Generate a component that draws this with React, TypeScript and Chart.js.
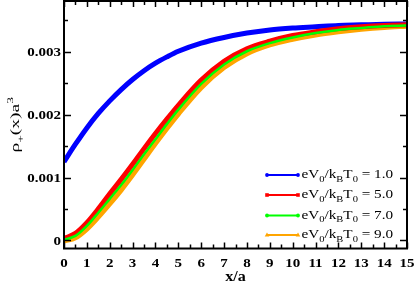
import React, { useEffect, useRef } from "react";
import { Chart, registerables } from "chart.js";
Chart.register(...registerables);

// x/a sample positions
const xValues = [0, 0.5, 1, 1.5, 2, 2.5, 3, 3.5, 4, 4.5, 5, 6, 7, 8, 9, 10, 11, 12, 13, 14, 15];
// rho_+(x) a^3 for eV0/kBT0 = 1.0
const rhoV1 = [0.00125, 0.00153, 0.00179, 0.00202, 0.00222, 0.0024, 0.00256, 0.0027, 0.00282, 0.00292, 0.00301, 0.00314, 0.00323, 0.0033, 0.00335, 0.00338, 0.0034, 0.00342, 0.00343, 0.00344, 0.003445];
// eV0/kBT0 = 5.0
const rhoV5 = [0.00003, 0.00011, 0.00028, 0.0005, 0.00074, 0.00097, 0.00121, 0.00146, 0.0017, 0.00193, 0.00215, 0.00255, 0.00285, 0.00305, 0.00317, 0.00326, 0.00332, 0.00337, 0.0034, 0.00342, 0.00343];
// eV0/kBT0 = 7.0
const rhoV7 = [0.00001, 0.00007, 0.00023, 0.00044, 0.00066, 0.00088, 0.00112, 0.00137, 0.00161, 0.00185, 0.00208, 0.00249, 0.0028, 0.00301, 0.00314, 0.00323, 0.0033, 0.00335, 0.00338, 0.00341, 0.00342];
// eV0/kBT0 = 9.0
const rhoV9 = [-0.00001, 0.00004, 0.00018, 0.00037, 0.00058, 0.0008, 0.00104, 0.00129, 0.00154, 0.00178, 0.00201, 0.00243, 0.00275, 0.00297, 0.00311, 0.0032, 0.00327, 0.00332, 0.00336, 0.00339, 0.00341];

const legendValues = ["1.0", "5.0", "7.0", "9.0"];
const seriesColors = ["#0000ff", "#ff0000", "#00ff00", "#ffa500"];
const legendMarkers = ["circle", "square", "circle", "triangle"];

const xTickValues = [0, 1, 2, 3, 4, 5, 6, 7, 8, 9, 10, 11, 12, 13, 14, 15];
const xTickLabels = ["0", "1", "2", "3", "4", "5", "6", "7", "8", "9", "10", "11", "12", "13", "14", "15"];
const yTickValues = [0, 0.001, 0.002, 0.003];
const yTickLabels = ["0", "0.001", "0.002", "0.003"];

const SERIF = "'Liberation Serif', 'Times New Roman', serif";

type Seg = { t: string; k?: "sub" | "sup" };

function drawRich(ctx: CanvasRenderingContext2D, segs: Seg[], x: number, y: number, size: number, weight: string, sx: number, align: "left" | "center") {
  const subSize = Math.round(size * 0.7);
  const widths = segs.map((s) => {
    ctx.font = `${weight} ${s.k ? subSize : size}px ${SERIF}`;
    return ctx.measureText(s.t).width;
  });
  const total = widths.reduce((a, b) => a + b, 0);
  ctx.save();
  ctx.translate(x, y);
  ctx.scale(sx, 1);
  let cx = align === "center" ? -total / 2 : 0;
  ctx.textAlign = "left";
  ctx.textBaseline = "alphabetic";
  segs.forEach((s, i) => {
    ctx.font = `${weight} ${s.k ? subSize : size}px ${SERIF}`;
    const dy = s.k === "sub" ? size * 0.3 : s.k === "sup" ? -size * 0.45 : 0;
    ctx.fillText(s.t, cx, dy);
    cx += widths[i];
  });
  ctx.restore();
}

const decorPlugin = {
  id: "decor",
  afterDatasetsDraw(chart: any) {
    const { ctx, chartArea: a, scales } = chart;
    const xs = scales.x;
    const ys = scales.y;
    ctx.save();
    ctx.strokeStyle = "#000";
    ctx.fillStyle = "#000";
    ctx.lineWidth = 2;
    ctx.strokeRect(a.left, a.top, a.right - a.left, a.bottom - a.top);

    const seg = (x1: number, y1: number, x2: number, y2: number) => {
      ctx.beginPath();
      ctx.moveTo(x1, y1);
      ctx.lineTo(x2, y2);
      ctx.stroke();
    };

    // x ticks (inward, top and bottom)
    ctx.lineWidth = 1.5;
    for (const t of xs.ticks) {
      if (t.value < xs.min - 1e-9 || t.value > xs.max + 1e-9) continue;
      const px = Math.round(xs.getPixelForValue(t.value)) + 0.5;
      const major = Math.abs(t.value - Math.round(t.value)) < 1e-6;
      const len = major ? 6 : 4;
      seg(px, a.bottom, px, a.bottom - len);
      seg(px, a.top, px, a.top + len);
    }
    // y ticks (inward, left and right)
    for (const t of ys.ticks) {
      if (t.value < ys.min - 1e-12 || t.value > ys.max + 1e-12) continue;
      const py = Math.round(ys.getPixelForValue(t.value)) + 0.5;
      const r = t.value / 0.001;
      const major = Math.abs(r - Math.round(r)) < 1e-6;
      const len = major ? 7 : 4;
      seg(a.left, py, a.left + len, py);
      seg(a.right, py, a.right - len, py);
    }

    // tick labels
    xTickValues.forEach((v, i) => {
      const px = xs.getPixelForValue(v);
      drawRich(ctx, [{ t: xTickLabels[i] }], px, 266.5, 12.5, "bold", 1.2, "center");
    });
    yTickValues.forEach((v, i) => {
      const py = ys.getPixelForValue(v);
      ctx.save();
      ctx.font = `bold 12.5px ${SERIF}`;
      const w = ctx.measureText(yTickLabels[i]).width * 1.2;
      ctx.restore();
      drawRich(ctx, [{ t: yTickLabels[i] }], a.left - 3 - w, py + 4.3, 12.5, "bold", 1.2, "left");
    });

    // x title
    drawRich(ctx, [{ t: "x/a" }], (a.left + a.right) / 2, 280.5, 14, "bold", 1.15, "center");

    // y title, rotated
    ctx.save();
    ctx.translate(19, (a.top + a.bottom) / 2);
    ctx.rotate(-Math.PI / 2);
    drawRich(ctx, [{ t: "ρ" }, { t: "+", k: "sub" }, { t: "(x)a" }, { t: "3", k: "sup" }], 0, 0, 13, "normal", 1.5, "center");
    ctx.restore();

    // legend
    const rowY = [175, 195, 215.5, 235];
    legendValues.forEach((val, i) => {
      const ly = rowY[i];
      const col = seriesColors[i];
      ctx.strokeStyle = col;
      ctx.fillStyle = col;
      ctx.lineWidth = 2;
      seg(267, ly, 298, ly);
      [267, 298].forEach((mx) => {
        const m = legendMarkers[i];
        ctx.beginPath();
        if (m === "circle") {
          ctx.arc(mx, ly, 1.9, 0, Math.PI * 2);
        } else if (m === "square") {
          ctx.rect(mx - 1.8, ly - 1.8, 3.6, 3.6);
        } else {
          ctx.moveTo(mx, ly - 2.4);
          ctx.lineTo(mx + 2.3, ly + 1.6);
          ctx.lineTo(mx - 2.3, ly + 1.6);
          ctx.closePath();
        }
        ctx.fill();
      });
      ctx.fillStyle = "#000";
      drawRich(
        ctx,
        [{ t: "eV" }, { t: "0", k: "sub" }, { t: "/k" }, { t: "B", k: "sub" }, { t: "T" }, { t: "0", k: "sub" }, { t: " = " + val }],
        301.5,
        ly + 3,
        13,
        "normal",
        1.17,
        "left"
      );
    });
    ctx.restore();
  },
};

export default function App() {
  const ref = useRef<HTMLCanvasElement>(null);
  useEffect(() => {
    if (!ref.current) return;
    const mk = (d: number[]) => xValues.map((x, i) => ({ x, y: d[i] }));
    const chart = new Chart(ref.current, {
      type: "line",
      data: {
        datasets: [
          { label: "eV0/kBT0 = 1.0", data: mk(rhoV1), borderColor: seriesColors[0], borderWidth: 5, order: 3 },
          { label: "eV0/kBT0 = 5.0", data: mk(rhoV5), borderColor: seriesColors[1], borderWidth: 5, order: 1 },
          { label: "eV0/kBT0 = 7.0", data: mk(rhoV7), borderColor: seriesColors[2], borderWidth: 2.5, order: 0 },
          { label: "eV0/kBT0 = 9.0", data: mk(rhoV9), borderColor: seriesColors[3], borderWidth: 5, order: 2 },
        ].map((d) => ({ ...d, pointRadius: 0, fill: false, cubicInterpolationMode: "monotone" as const })),
      },
      options: {
        animation: false,
        responsive: false,
        devicePixelRatio: 1,
        layout: { padding: { top: 1, right: 8, left: 0, bottom: 0 } },
        plugins: { legend: { display: false }, tooltip: { enabled: false } },
        scales: {
          x: {
            type: "linear",
            min: 0,
            max: 15,
            ticks: { display: false, stepSize: 0.5, includeBounds: false },
            grid: { display: false },
            border: { display: false },
            afterFit: (s: any) => { s.height = 34.5; },
          },
          y: {
            type: "linear",
            min: -0.00013,
            max: 0.00381,
            ticks: { display: false, stepSize: 0.0005, includeBounds: false },
            grid: { display: false },
            border: { display: false },
            afterFit: (s: any) => { s.width = 64; },
          },
        },
      },
      plugins: [decorPlugin],
    } as any);
    return () => chart.destroy();
  }, []);
  return (
    <div style={{ position: "fixed", left: 0, top: 0, width: 415, height: 283, background: "#fff" }}>
      <canvas ref={ref} width={415} height={283} style={{ display: "block" }} />
    </div>
  );
}
